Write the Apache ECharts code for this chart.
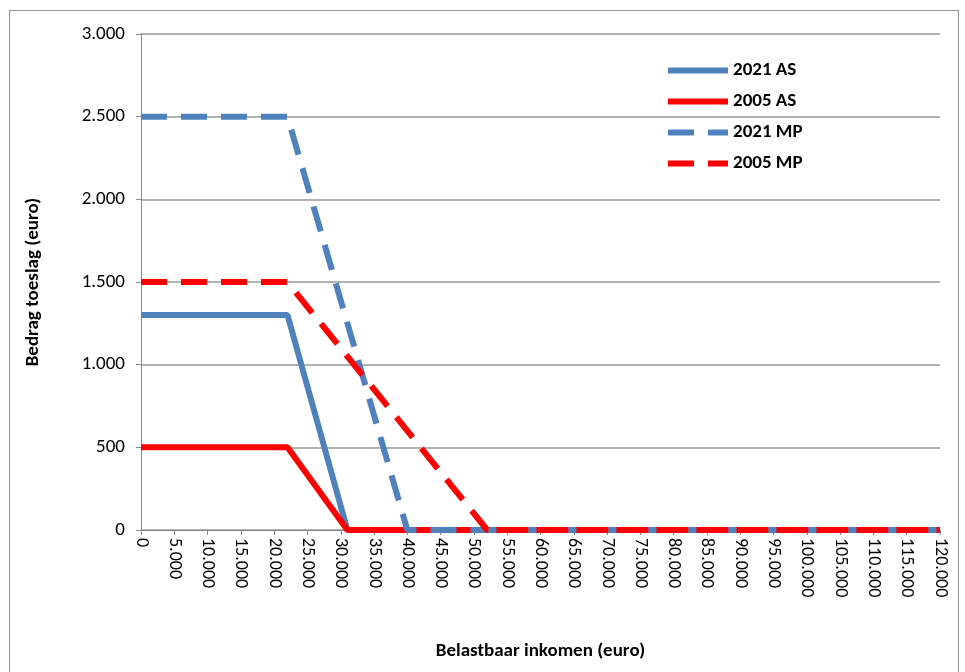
<!DOCTYPE html>
<html><head><meta charset="utf-8">
<script src="https://cdn.jsdelivr.net/npm/echarts@6/dist/echarts.min.js"></script>
<style>
html,body{margin:0;padding:0;background:#fff;}
#box{position:absolute;left:9px;top:10px;width:950px;height:670px;border:1px solid #999;box-sizing:border-box;}
#chart{width:965px;height:672px;}
</style></head>
<body>
<div id="box"></div>
<div id="chart"></div>
<script>
// inkomen / toeslag punten per reeks
var as2021 = [[0, 1300], [22000, 1300], [31000, 0], [120000, 0]];
var as2005 = [[0, 500], [22000, 500], [31000, 0], [120000, 0]];
var mp2021 = [[0, 2500], [22000, 2500], [40000, 0], [120000, 0]];
var mp2005 = [[0, 1500], [22000, 1500], [52000, 0], [120000, 0]];
var names = ['2021 AS', '2005 AS', '2021 MP', '2005 MP'];

function fmt(v) {
    return String(v).replace(/\B(?=(\d{3})+(?!\d))/g, '.');
}

var myChart = echarts.init(document.getElementById('chart'));
var font = 'Calibri, "Liberation Sans", Arial, sans-serif';
function line(name, data, color, dashed) {
    return {
        name: name, type: 'line', data: data, symbol: 'none',
        lineStyle: {color: color, width: 6, type: dashed ? [26, 14] : 'solid'},
        itemStyle: {color: color}
    };
}
myChart.setOption({
    animation: false,
    grid: {left: 141, right: 25, top: 34, bottom: 142},
    legend: {
        orient: 'vertical', left: 660, top: 56, itemGap: 12,
        itemWidth: 60, itemHeight: 22,
        itemStyle: {opacity: 0},
        lineStyle: {width: 6},
        textStyle: {fontFamily: font, fontSize: 19, fontWeight: 'bold', color: '#000'},
        data: names
    },
    xAxis: {
        type: 'value', min: 0, max: 120000, interval: 5000,
        name: 'Belastbaar inkomen (euro)', nameLocation: 'middle', nameGap: 112,
        nameTextStyle: {fontFamily: font, fontSize: 19, fontWeight: 'bold', color: '#000'},
        axisLine: {lineStyle: {color: '#888'}},
        axisTick: {show: true, lineStyle: {color: '#888'}},
        splitLine: {show: false},
        axisLabel: {rotate: -90, fontFamily: font, fontSize: 18, color: '#000', formatter: fmt}
    },
    yAxis: {
        type: 'value', min: 0, max: 3000, interval: 500,
        name: 'Bedrag toeslag (euro)', nameLocation: 'middle', nameGap: 98,
        nameTextStyle: {fontFamily: font, fontSize: 19, fontWeight: 'bold', color: '#000'},
        axisLine: {show: true, lineStyle: {color: '#888'}},
        axisTick: {show: true, lineStyle: {color: '#888'}},
        splitLine: {lineStyle: {color: '#999', width: 1.5}},
        axisLabel: {fontFamily: font, fontSize: 19, color: '#000', margin: 16, formatter: fmt}
    },
    series: [
        line(names[0], as2021, '#4f81bd', false),
        line(names[1], as2005, '#ff0000', false),
        line(names[2], mp2021, '#4f81bd', true),
        line(names[3], mp2005, '#ff0000', true)
    ]
});
</script>
</body></html>
